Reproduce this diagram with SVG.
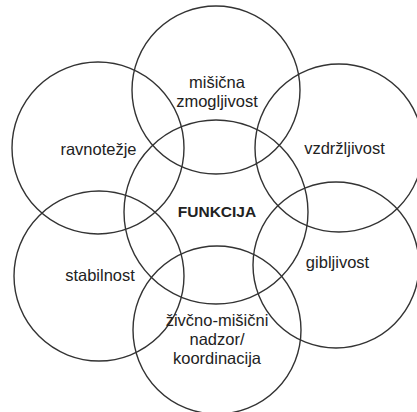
<svg xmlns="http://www.w3.org/2000/svg" width="417" height="412" viewBox="0 0 417 412">
  <style>
    .ring { fill: none; stroke: #333; stroke-width: 1.4; }
    .lbl { font-family: "Liberation Sans", Arial, sans-serif; font-size: 16.5px; fill: #222; text-anchor: middle; }
    .core { font-weight: bold; font-size: 15.5px; }
  </style>
  <rect width="417" height="412" fill="#fff"/>

  <!-- seven overlapping rings, each with its label -->
  <g id="node-misicna">
    <circle class="ring" cx="216" cy="90" r="84"/>
    <text class="lbl" x="217" y="88">mišična</text>
    <text class="lbl" x="217" y="107">zmogljivost</text>
  </g>
  <g id="node-ravnotezje">
    <circle class="ring" cx="98" cy="148" r="86"/>
    <text class="lbl" x="98.5" y="155">ravnotežje</text>
  </g>
  <g id="node-vzdrzljivost">
    <circle class="ring" cx="339" cy="148" r="84"/>
    <text class="lbl" x="344.5" y="154">vzdržljivost</text>
  </g>
  <g id="node-funkcija">
    <circle class="ring" cx="216" cy="212" r="92"/>
    <text class="lbl core" x="217" y="217">FUNKCIJA</text>
  </g>
  <g id="node-stabilnost">
    <circle class="ring" cx="99" cy="276" r="85"/>
    <text class="lbl" x="100" y="281">stabilnost</text>
  </g>
  <g id="node-gibljivost">
    <circle class="ring" cx="336" cy="265" r="83"/>
    <text class="lbl" x="337.5" y="268">gibljivost</text>
  </g>
  <g id="node-koordinacija">
    <circle class="ring" cx="217" cy="330" r="84"/>
    <text class="lbl" x="217" y="326">živčno-mišični</text>
    <text class="lbl" x="217" y="345">nadzor/</text>
    <text class="lbl" x="217" y="364">koordinacija</text>
  </g>
</svg>
